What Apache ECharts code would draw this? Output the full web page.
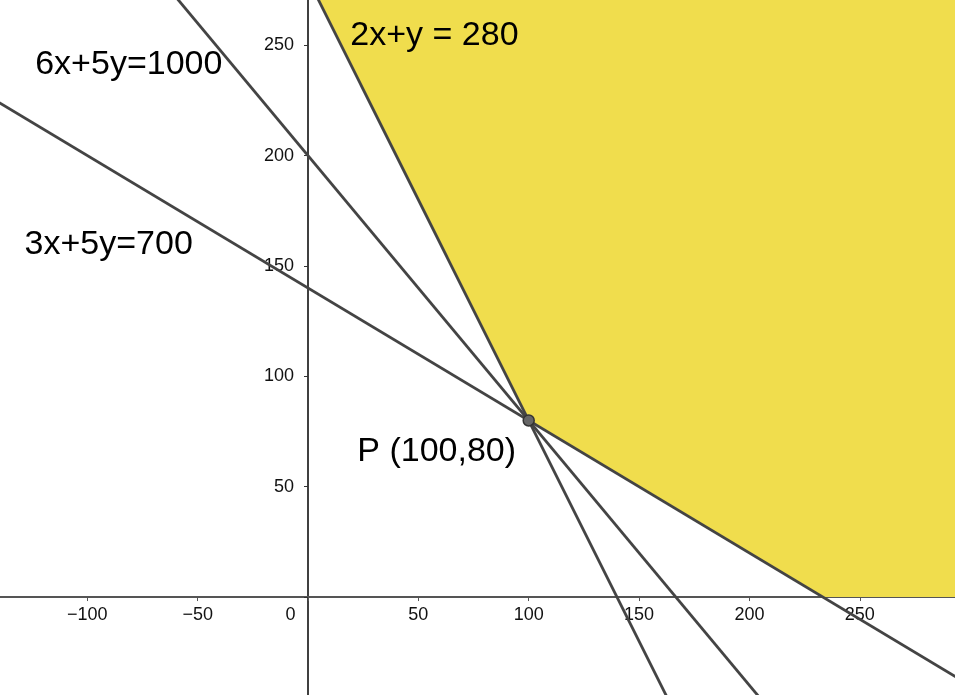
<!DOCTYPE html>
<html>
<head>
<meta charset="utf-8">
<script src="https://cdn.jsdelivr.net/npm/echarts@6/dist/echarts.min.js"></script>
<style>
html,body{margin:0;padding:0;background:#fff;}
#chart{width:955px;height:695px;}
</style>
</head>
<body>
<div id="chart"></div>
<script>
// Axis ranges and ticks
var xRange = [-150, 300];
var yRange = [-50, 300];
var tickStep = 50;

// Constraint lines (two points each, data coordinates)
var line6x5y = [[-150, 380], [300, -160]];   // 6x+5y=1000
var line3x5y = [[-150, 230], [300, -40]];    // 3x+5y=700
var line2xy  = [[-10, 300], [165, -50]];     // 2x+y=280

// Feasible region vertices
var regionPts = [[-10, 300], [300, 300], [300, 0], [233.33, 0], [100, 80]];

// Optimal point
var pointP = [100, 80];
var pointLabel = 'P (100,80)';

// Line annotations [x, y, text]
var annX = [-81.2, -90.3, 57.3];
var annY = [241.2, 159.8, 254.4];
var annText = ['6x+5y=1000', '3x+5y=700', '2x+y = 280'];

var FONT = "'Liberation Sans', Arial, sans-serif";
var LINE_COLOR = '#444';
var FILL = '#f0dd4d';

// grid placement (so that the visible window is about x -139.6..293, y -44.4..270.5)
var GRID = {left: -23.05, right: -15.1, top: -65.1, bottom: -12.4};
var W = 955, H = 695;
var pxPerUnitX = (W - GRID.left - GRID.right) / (xRange[1] - xRange[0]);
var pxPerUnitY = (H - GRID.top - GRID.bottom) / (yRange[1] - yRange[0]);
var zeroPxX = GRID.left + (0 - xRange[0]) * pxPerUnitX;
var zeroPxY = GRID.top + (yRange[1] - 0) * pxPerUnitY;

var chart = echarts.init(document.getElementById('chart'), null, {renderer: 'canvas'});

function fmtX(v) {
  if (v === 0) return '{z|0}';
  if (v < 0) return '\u2212' + Math.abs(v);
  return String(v);
}
function fmtY(v) {
  if (v <= 0) return '';
  return String(v);
}

var annData = annText.map(function (t, i) { return {name: t, value: [annX[i], annY[i]]}; });

var option = {
  animation: false,
  backgroundColor: '#fff',
  grid: {left: GRID.left, right: GRID.right, top: GRID.top, bottom: GRID.bottom, containLabel: false, outerBoundsMode: 'none'},
  xAxis: {
    type: 'value', min: xRange[0], max: xRange[1], interval: tickStep,
    position: 'bottom',
    offset: -((H - GRID.bottom) - zeroPxY),
    axisLine: {onZero: false, lineStyle: {color: '#555', width: 2}},
    axisTick: {show: true, length: 4, lineStyle: {color: '#555', width: 1}},
    splitLine: {show: false},
    axisLabel: {
      color: '#111', fontSize: 18, fontFamily: FONT, margin: 9,
      formatter: fmtX,
      rich: {z: {color: '#111', fontSize: 18, fontFamily: FONT, padding: [0, 35, 0, 0]}}
    }
  },
  yAxis: {
    type: 'value', min: yRange[0], max: yRange[1], interval: tickStep,
    position: 'left',
    offset: -(zeroPxX - GRID.left),
    axisLine: {onZero: false, lineStyle: {color: '#000', width: 1.5}},
    axisTick: {show: true, length: 4, lineStyle: {color: '#333', width: 1}},
    splitLine: {show: false},
    axisLabel: {color: '#111', fontSize: 18, fontFamily: FONT, margin: 14, formatter: fmtY}
  },
  series: [
    {
      type: 'custom', z: 1, clip: true,
      data: [[0, 0]],
      renderItem: function (params, api) {
        var pts = regionPts.map(function (p) { return api.coord(p); });
        return {type: 'polygon', shape: {points: pts}, style: {fill: FILL}};
      },
      silent: true
    },
    {type: 'line', z: 3, data: line6x5y, symbol: 'none', clip: true, lineStyle: {color: LINE_COLOR, width: 2.8}},
    {type: 'line', z: 3, data: line3x5y, symbol: 'none', clip: true, lineStyle: {color: LINE_COLOR, width: 2.8}},
    {type: 'line', z: 3, data: line2xy, symbol: 'none', clip: true, lineStyle: {color: LINE_COLOR, width: 2.8}},
    {
      type: 'scatter', z: 5, data: [pointP], symbol: 'circle', symbolSize: 11,
      itemStyle: {color: '#666', borderColor: '#333', borderWidth: 1.5, opacity: 1},
      label: {
        show: true, position: 'inside', offset: [-92, 31],
        formatter: pointLabel, color: '#000', fontSize: 34, fontFamily: FONT
      }
    },
    {
      type: 'scatter', z: 6, data: annData, symbolSize: 0,
      itemStyle: {opacity: 1},
      label: {
        show: true, position: 'inside', formatter: '{b}',
        color: '#000', fontSize: 34, fontFamily: FONT
      }
    }
  ]
};
chart.setOption(option);
</script>
</body>
</html>
